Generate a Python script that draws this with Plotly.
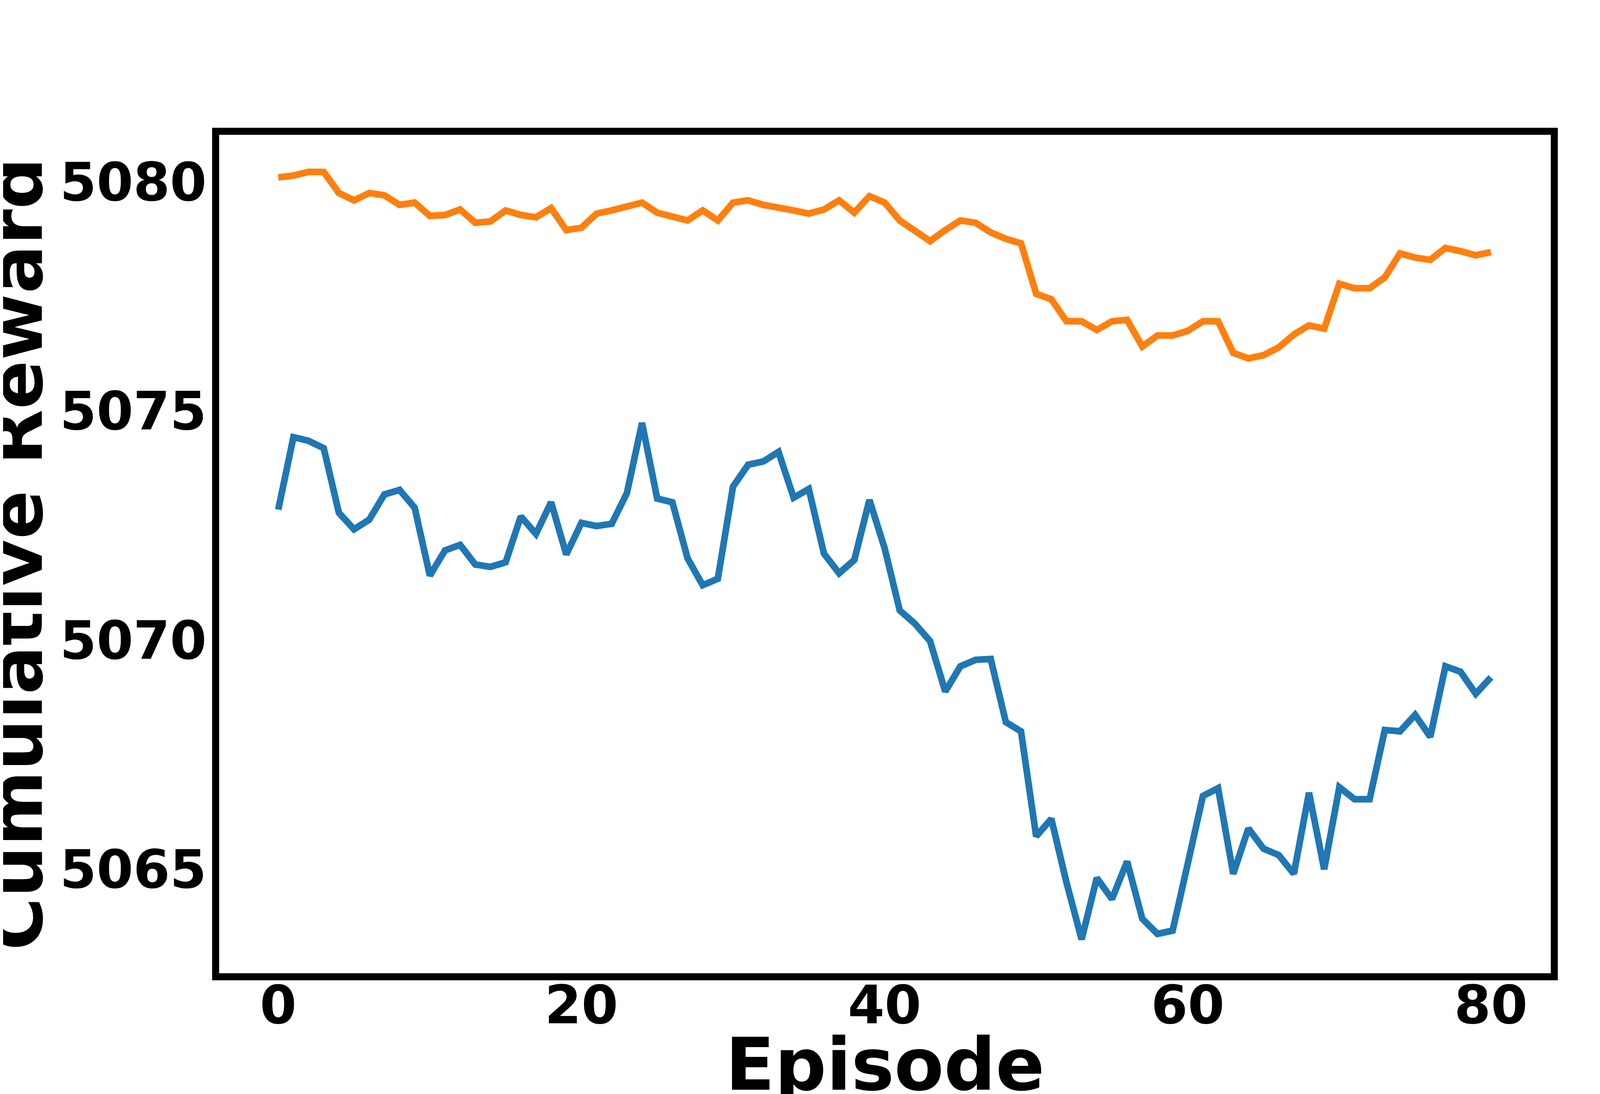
import plotly.graph_objects as go

episodes = list(range(81))

blue = [5072.85, 5074.43, 5074.35, 5074.19, 5072.78, 5072.42, 5072.63, 5073.18, 5073.28, 5072.89,
        5071.41, 5071.96, 5072.08, 5071.65, 5071.60, 5071.70, 5072.70, 5072.32, 5073.01, 5071.87,
        5072.56, 5072.49, 5072.54, 5073.21, 5074.74, 5073.09, 5073.01, 5071.79, 5071.20, 5071.34,
        5073.35, 5073.83, 5073.90, 5074.11, 5073.11, 5073.30, 5071.89, 5071.46, 5071.75, 5073.06,
        5072.01, 5070.65, 5070.36, 5069.98, 5068.88, 5069.43, 5069.57, 5069.59, 5068.21, 5068.01,
        5065.72, 5066.10, 5064.71, 5063.47, 5064.81, 5064.35, 5065.17, 5063.92, 5063.59, 5063.66,
        5065.12, 5066.60, 5066.77, 5064.90, 5065.89, 5065.45, 5065.31, 5064.90, 5066.67, 5065.00,
        5066.79, 5066.53, 5066.53, 5068.04, 5068.01, 5068.37, 5067.89, 5069.43, 5069.31, 5068.83,
        5069.19]

orange = [5080.10, 5080.14, 5080.22, 5080.22, 5079.76, 5079.60, 5079.76, 5079.71, 5079.50, 5079.55,
          5079.26, 5079.28, 5079.40, 5079.11, 5079.14, 5079.38, 5079.28, 5079.23, 5079.43, 5078.95,
          5079.00, 5079.31, 5079.38, 5079.45, 5079.55, 5079.33, 5079.23, 5079.16, 5079.38, 5079.16,
          5079.55, 5079.60, 5079.50, 5079.45, 5079.38, 5079.31, 5079.40, 5079.60, 5079.33, 5079.69,
          5079.55, 5079.16, 5078.95, 5078.71, 5078.95, 5079.16, 5079.11, 5078.90, 5078.76, 5078.66,
          5077.56, 5077.44, 5076.96, 5076.96, 5076.77, 5076.96, 5076.99, 5076.41, 5076.65, 5076.65,
          5076.75, 5076.96, 5076.96, 5076.27, 5076.15, 5076.22, 5076.39, 5076.67, 5076.87, 5076.80,
          5077.78, 5077.68, 5077.68, 5077.92, 5078.44, 5078.35, 5078.30, 5078.56, 5078.49, 5078.40,
          5078.47]

FONT = "DejaVu Sans"

fig = go.Figure()
fig.add_trace(go.Scatter(x=episodes, y=blue, mode="lines",
                         line=dict(color="#1f77b4", width=17), showlegend=False))
fig.add_trace(go.Scatter(x=episodes, y=orange, mode="lines",
                         line=dict(color="#ff7f0e", width=17), showlegend=False))

axis_common = dict(showgrid=False, zeroline=False, showline=True, linecolor="black",
                   linewidth=18, mirror=True, ticks="",
                   tickfont=dict(family=FONT, size=135, color="black", weight="bold"))

fig.update_xaxes(range=[-3.9, 83.95], tickvals=[0, 20, 40, 60, 80], ticklabelstandoff=-52,
                 **axis_common)
fig.update_yaxes(range=[5062.73, 5081.03], tickvals=[5065, 5070, 5075, 5080], ticklabelstandoff=-13,
                 **axis_common)

fig.update_layout(
    width=4400, height=2800,
    paper_bgcolor="white", plot_bgcolor="white",
    margin=dict(l=553, r=438, t=337, b=317, autoexpand=False),
    annotations=[
        dict(text="<b>Episode</b>", xref="paper", yref="paper", x=0.5, y=-0.109,
             xanchor="center", yanchor="middle", showarrow=False,
             font=dict(family=FONT, size=185, color="black")),
        dict(text="<b>Cumulative Reward</b>", xref="paper", yref="paper", x=-0.152, y=0.5,
             xanchor="center", yanchor="middle", textangle=-90, showarrow=False,
             font=dict(family=FONT, size=185, color="black")),
    ],
)

fig.write_html("out.html")
